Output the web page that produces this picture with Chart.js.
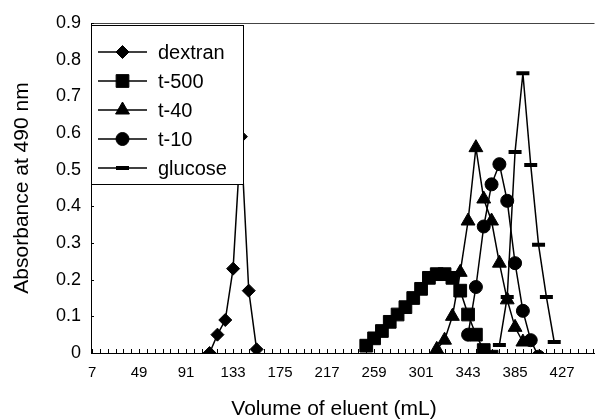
<!DOCTYPE html>
<html>
<head>
<meta charset="utf-8">
<script src="https://cdn.jsdelivr.net/npm/chart.js@4.4.0/dist/chart.umd.min.js"></script>
<style>
  html, body { margin: 0; padding: 0; background: #fff; }
  #wrap { width: 605px; height: 420px; }
</style>
</head>
<body>
<div id="wrap"><canvas id="chart" width="605" height="420"></canvas></div>
<script>
// elution volumes (mL) and absorbance
const dextranX = [112, 119, 126, 133, 140, 147, 154];
const dextranY = [0.0, 0.05, 0.09, 0.23, 0.59, 0.17, 0.01];

const t500X = [252, 259, 266, 273, 280, 287, 294, 301, 308, 315, 322, 329, 336, 343, 350, 357, 364];
const t500Y = [0.02, 0.04, 0.06, 0.085, 0.105, 0.125, 0.15, 0.175, 0.205, 0.215, 0.215, 0.205, 0.17, 0.105, 0.05, 0.008, -0.01];

const t40X = [315, 322, 329, 336, 343, 350, 357, 364, 371, 378, 385, 392];
const t40Y = [0.01, 0.035, 0.1, 0.22, 0.36, 0.56, 0.42, 0.36, 0.245, 0.145, 0.07, 0.03];

const t10X = [343, 350, 357, 364, 371, 378, 385, 392, 399, 406];
const t10Y = [0.05, 0.18, 0.345, 0.46, 0.515, 0.415, 0.245, 0.115, 0.035, -0.01];

const glucoseX = [371, 378, 385, 392, 399, 406, 413, 420];
const glucoseY = [0.022, 0.153, 0.548, 0.763, 0.513, 0.295, 0.153, 0.03];

const seriesNames = ['dextran', 't-500', 't-40', 't-10', 'glucose'];
const xTickLabels = [7, 49, 91, 133, 175, 217, 259, 301, 343, 385, 427];
const yTickLabels = [0, 0.1, 0.2, 0.3, 0.4, 0.5, 0.6, 0.7, 0.8, 0.9];

const FONT = '"Liberation Sans", Arial, sans-serif';

function pts(xs, ys) {
    return xs.map((x, i) => ({ x: x, y: ys[i] }));
}

const markers = [
    { pointStyle: 'rectRot', radius: 6.5, borderWidth: 1 },
    { pointStyle: 'rect', radius: 9, borderWidth: 1 },
    { pointStyle: 'triangle', radius: 8, borderWidth: 1 },
    { pointStyle: 'circle', radius: 6.5, borderWidth: 1 },
    { pointStyle: 'line', radius: 6.5, borderWidth: 4 }
];

const allData = [
    pts(dextranX, dextranY),
    pts(t500X, t500Y),
    pts(t40X, t40Y),
    pts(t10X, t10Y),
    pts(glucoseX, glucoseY)
];

const datasets = seriesNames.map((name, i) => ({
    label: name,
    data: allData[i],
    borderColor: '#000',
    backgroundColor: '#000',
    borderWidth: 1.5,
    pointStyle: markers[i].pointStyle,
    pointRadius: markers[i].radius,
    pointBorderWidth: markers[i].borderWidth,
    pointBackgroundColor: '#000',
    pointBorderColor: '#000',
    tension: 0
}));

// axis decoration, titles and the boxed legend, Excel style
const excelLook = {
    id: 'excelLook',
    afterDraw(chart) {
        const ctx = chart.ctx;
        const xs = chart.scales.x;
        const ys = chart.scales.y;
        const area = chart.chartArea;
        ctx.save();

        // top border of plot area
        ctx.strokeStyle = '#444';
        ctx.lineWidth = 1;
        ctx.beginPath();
        ctx.moveTo(area.left, area.top + 0.5);
        ctx.lineTo(area.right, area.top + 0.5);
        ctx.stroke();

        // small inside tick marks
        ctx.strokeStyle = '#000';
        ctx.beginPath();
        for (let v = 7; v <= 456; v += 7) {
            const px = Math.round(xs.getPixelForValue(v)) + 0.5;
            ctx.moveTo(px, area.bottom);
            ctx.lineTo(px, area.bottom - 4);
        }
        yTickLabels.forEach(v => {
            const py = Math.round(ys.getPixelForValue(v)) + 0.5;
            ctx.moveTo(area.left, py);
            ctx.lineTo(area.left + 3, py);
        });
        ctx.stroke();

        // axis titles
        ctx.fillStyle = '#000';
        ctx.font = '21px ' + FONT;
        ctx.textAlign = 'center';
        ctx.textBaseline = 'middle';
        ctx.fillText('Volume of eluent (mL)', 334, 409);
        ctx.save();
        ctx.translate(22, (area.top + area.bottom) / 2);
        ctx.rotate(-Math.PI / 2);
        ctx.fillText('Absorbance at 490 nm', 0, 0);
        ctx.restore();

        // legend box
        const bx = 91.5, by = 25.5, bw = 152, bh = 159;
        ctx.fillStyle = '#fff';
        ctx.fillRect(bx, by, bw, bh);
        ctx.strokeStyle = '#000';
        ctx.lineWidth = 1;
        ctx.strokeRect(bx, by, bw, bh);

        ctx.font = '20px ' + FONT;
        ctx.textAlign = 'left';
        seriesNames.forEach((name, i) => {
            const y = 52 + i * 29;
            ctx.strokeStyle = '#000';
            ctx.lineWidth = 1.5;
            ctx.beginPath();
            ctx.moveTo(98, y);
            ctx.lineTo(147, y);
            ctx.stroke();
            ctx.fillStyle = '#000';
            ctx.strokeStyle = '#000';
            ctx.lineWidth = markers[i].borderWidth;
            Chart.helpers.drawPoint(ctx, {
                pointStyle: markers[i].pointStyle,
                radius: markers[i].radius,
                borderWidth: markers[i].borderWidth,
                rotation: 0
            }, 122.5, y);
            ctx.fillStyle = '#000';
            ctx.fillText(name, 158, y + 1);
        });

        ctx.restore();
    }
};

new Chart(document.getElementById('chart'), {
    type: 'line',
    data: { datasets: datasets },
    options: {
        responsive: false,
        animation: false,
        devicePixelRatio: 1,
        layout: { padding: { top: 23, right: 0, left: 0, bottom: 0 } },
        plugins: {
            legend: { display: false },
            tooltip: { enabled: false }
        },
        scales: {
            x: {
                type: 'linear',
                min: 6,
                max: 456,
                afterBuildTicks: s => { s.ticks = xTickLabels.map(v => ({ value: v })); },
                afterFit: s => { s.height = 67; },
                grid: { display: false, drawTicks: false },
                border: { display: true, color: '#000', width: 1 },
                ticks: {
                    color: '#000',
                    padding: 11,
                    maxRotation: 0,
                    autoSkip: false,
                    font: { family: FONT, size: 15 },
                    callback: v => String(v)
                }
            },
            y: {
                min: 0,
                max: 0.9,
                afterBuildTicks: s => { s.ticks = yTickLabels.map(v => ({ value: v })); },
                afterFit: s => { s.width = 91; },
                grid: { display: false, drawTicks: false },
                border: { display: true, color: '#000', width: 1 },
                ticks: {
                    color: '#000',
                    padding: 10,
                    font: { family: FONT, size: 18 },
                    callback: v => (v === 0 ? '0' : v.toFixed(1))
                }
            }
        }
    },
    plugins: [excelLook]
});
</script>
</body>
</html>
